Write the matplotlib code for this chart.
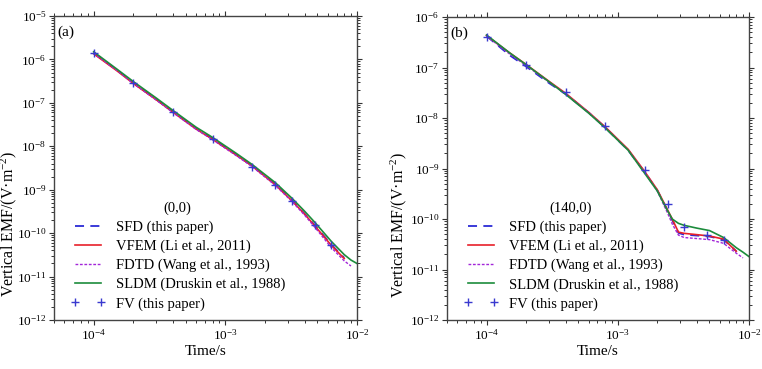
import numpy as np
import matplotlib
matplotlib.use('Agg')
import matplotlib.pyplot as plt
from matplotlib.ticker import LogLocator, NullFormatter

plt.rcParams['font.family'] = ['Liberation Serif', 'DejaVu Serif']
plt.rcParams['mathtext.fontset'] = 'custom'
plt.rcParams['mathtext.rm'] = 'Liberation Serif'
plt.rcParams['mathtext.it'] = 'Liberation Serif:italic'

nan = np.nan

# panel (a): receiver at (0,0)
t_a = [1e-4, 1.5e-4, 2e-4, 3e-4, 4e-4, 6e-4, 8e-4, 1.2e-3, 1.6e-3, 2.4e-3,
       3.2e-3, 4e-3, 4.8e-3, 6.4e-3, 8e-3, 9e-3, 1e-2]
sfd_a = [1.42e-6, 5.7e-7, 2.9e-7, 1.2e-7, 6.2e-8, 2.55e-8, 1.48e-8, 6.5e-9, 3.55e-9, 1.32e-9,
         5.7e-10, 2.8e-10, 1.5e-10, 5.4e-11, 2.7e-11, nan, nan]
vfem_a = [1.35e-6, 5.5e-7, 2.8e-7, 1.17e-7, 6.1e-8, 2.5e-8, 1.45e-8, 6.4e-9, 3.5e-9, 1.3e-9,
          5.6e-10, 2.75e-10, 1.45e-10, 5.2e-11, 2.6e-11, nan, nan]
fdtd_a = [1.38e-6, 5.6e-7, 2.8e-7, 1.15e-7, 6.0e-8, 2.45e-8, 1.42e-8, 6.2e-9, 3.4e-9, 1.25e-9,
          5.4e-10, 2.6e-10, 1.35e-10, 4.6e-11, 2.3e-11, 1.75e-11, nan]
sldm_a = [1.5e-6, 6.0e-7, 3.1e-7, 1.28e-7, 6.7e-8, 2.75e-8, 1.6e-8, 7.0e-9, 3.8e-9, 1.45e-9,
          6.4e-10, 3.2e-10, 1.75e-10, 6.4e-11, 3.2e-11, 2.4e-11, 2.0e-11]
fv_t_a = [1e-4, 2e-4, 4e-4, 8e-4, 1.6e-3, 2.4e-3, 3.2e-3, 4.8e-3, 6.4e-3]
fv_a = [1.4e-6, 2.8e-7, 6.0e-8, 1.5e-8, 3.4e-9, 1.3e-9, 5.6e-10, 1.5e-10, 5.2e-11]

# panel (b): receiver at (140,0)
t_b = [1e-4, 1.5e-4, 2e-4, 3e-4, 4e-4, 6e-4, 8e-4, 1.2e-3, 1.6e-3, 2e-3,
       2.4e-3, 2.6e-3, 2.9e-3, 3.2e-3, 4e-3, 5e-3, 6.4e-3, 8e-3, 9e-3, 1e-2]
sfd_b = [4.2e-7, 1.75e-7, 1.05e-7, 4.9e-8, 3.0e-8, 1.28e-8, 6.5e-9, 2.3e-9, 8.5e-10, 3.7e-10,
         1.45e-10, 9.5e-11, 5.3e-11, 4.9e-11, 4.7e-11, 4.5e-11, 3.9e-11, 2.3e-11, nan, nan]
vfem_b = [4.3e-7, 1.95e-7, 1.15e-7, 5.3e-8, 3.1e-8, 1.3e-8, 6.7e-9, 2.4e-9, 8.8e-10, 3.8e-10,
          1.5e-10, 1.0e-10, 5.5e-11, 5.2e-11, 4.9e-11, 4.6e-11, 4.0e-11, 2.3e-11, nan, nan]
fdtd_b = [4.2e-7, 1.85e-7, 1.1e-7, 5.1e-8, 3.0e-8, 1.28e-8, 6.5e-9, 2.3e-9, 8.4e-10, 3.6e-10,
          1.3e-10, 8.0e-11, 4.8e-11, 4.3e-11, 4.1e-11, 3.9e-11, 3.3e-11, 2.1e-11, 1.7e-11, nan]
sldm_b = [4.4e-7, 1.95e-7, 1.14e-7, 5.2e-8, 2.95e-8, 1.25e-8, 6.4e-9, 2.3e-9, 8.1e-10, 3.6e-10,
          1.45e-10, 1.0e-10, 8.2e-11, 7.5e-11, 6.6e-11, 5.9e-11, 4.3e-11, 2.7e-11, 2.2e-11, 1.8e-11]
fv_t_b = [1e-4, 2e-4, 4e-4, 8e-4, 1.6e-3, 2.4e-3, 3.2e-3, 4.8e-3, 6.4e-3]
fv_b = [4.1e-7, 1.12e-7, 3.2e-8, 7.0e-9, 9.3e-10, 1.95e-10, 6.8e-11, 4.8e-11, 3.8e-11]

x_ticks = [1e-4, 1e-3, 1e-2]
y_ticks_a = [1e-12, 1e-11, 1e-10, 1e-9, 1e-8, 1e-7, 1e-6, 1e-5]
y_ticks_b = [1e-12, 1e-11, 1e-10, 1e-9, 1e-8, 1e-7, 1e-6]

labels = ['SFD (this paper)', 'VFEM (Li et al., 2011)', 'FDTD (Wang et al., 1993)',
          'SLDM (Druskin et al., 1988)', 'FV (this paper)']

c_sfd = '#2b2bd6'
c_vfem = '#e8202a'
c_fdtd = '#a326d9'
c_sldm = '#1c8c3c'
c_fv = '#3a3acf'

fig = plt.figure(figsize=(7.62, 3.69), dpi=100)
ax_a = fig.add_axes([54/762, 1-320/369, 303/762, 304/369])
ax_b = fig.add_axes([447/762, 1-320/369, 302/762, 303/369])

panels = [
    (ax_a, t_a, sfd_a, vfem_a, fdtd_a, sldm_a, fv_t_a, fv_a, '(a)', '(0,0)', y_ticks_a, -0.1155),
    (ax_b, t_b, sfd_b, vfem_b, fdtd_b, sldm_b, fv_t_b, fv_b, '(b)', '(140,0)', y_ticks_b, -0.126),
]

for ax, t, sfd, vfem, fdtd, sldm, fvt, fv, tag, title, yt, labx in panels:
    ax.plot(t, sfd, color=c_sfd, ls=(0, (5, 3.5)), lw=1.3, label=labels[0])
    ax.plot(t, vfem, color=c_vfem, ls='-', lw=1.2, label=labels[1])
    ax.plot(t, fdtd, color=c_fdtd, ls=(0, (2, 1.2)), lw=1.0, label=labels[2])
    ax.plot(t, sldm, color=c_sldm, ls='-', lw=1.2, label=labels[3])
    ax.plot(fvt, fv, ls='none', marker='+', ms=5.5, mew=1.0, color=c_fv, label=labels[4])
    ax.set_xscale('log')
    ax.set_yscale('log')
    ax.set_xticks(x_ticks)
    ax.set_yticks(yt)
    ax.set_xlim(5e-5, 1e-2)
    ax.set_ylim(yt[0], yt[-1])
    ax.xaxis.set_minor_locator(LogLocator(base=10, subs=np.arange(2, 10), numticks=20))
    ax.yaxis.set_minor_locator(LogLocator(base=10, subs=np.arange(2, 10), numticks=40))
    ax.xaxis.set_minor_formatter(NullFormatter())
    ax.yaxis.set_minor_formatter(NullFormatter())
    ax.tick_params(which='both', direction='out', top=True, right=True,
                   color='#333333', labelsize=9.5, pad=2)
    ax.tick_params(which='major', length=3.5, width=0.8)
    ax.tick_params(which='minor', length=2.2, width=0.7)
    for s in ax.spines.values():
        s.set_color('#444444')
        s.set_linewidth(1.0)
    ax.set_xlabel('Time/s', fontsize=11, labelpad=2)
    ax.set_ylabel('Vertical EMF/(V\u00b7m$^{-2}$)', fontsize=11.5)
    ax.yaxis.set_label_coords(labx, 0.316)
    ax.text(0.012, 0.947, tag, transform=ax.transAxes, fontsize=11, va='center', ha='left')
    leg = ax.legend(loc='lower left', bbox_to_anchor=(0.035, 0.012), frameon=False,
                    fontsize=10.5, title=title, title_fontsize=10.5, numpoints=2,
                    handlelength=2.4, handletextpad=0.7, labelspacing=0.38,
                    borderpad=0.2, borderaxespad=0.2)

fig.savefig('out.png', dpi=100)
